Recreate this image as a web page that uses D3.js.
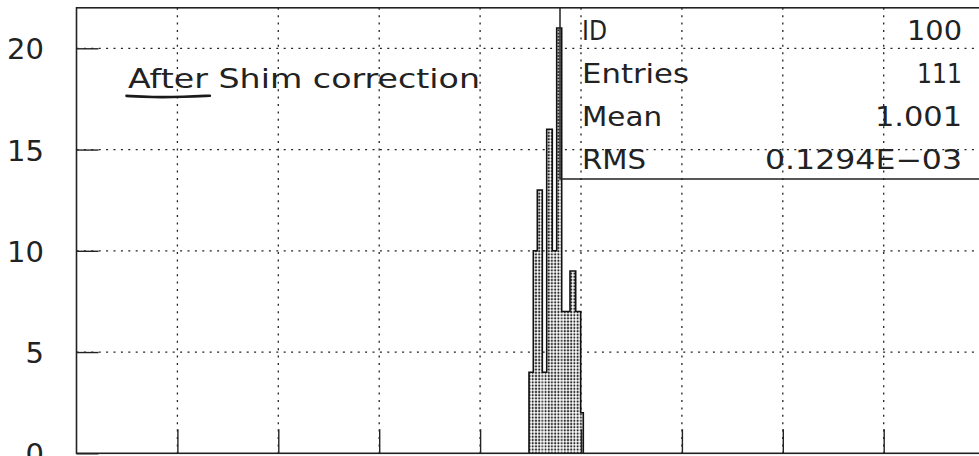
<!DOCTYPE html>
<html>
<head>
<meta charset="utf-8">
<script src="https://cdn.jsdelivr.net/npm/d3@7/dist/d3.min.js"></script>
<style>
  html, body { margin: 0; padding: 0; background: #fff; overflow: hidden; }
  svg { display: block; }
</style>
</head>
<body>
<svg id="chart" width="979" height="456"></svg>
<script>
// Histogram of the normalised field after shim correction (HBOOK style)
const binEdges = [1.0004846, 1.0005273, 1.000567, 1.0006165, 1.0006601, 1.0007156,
                  1.0007592, 1.0008087, 1.000891, 1.0009475, 1.000997, 1.0010228];
const binCounts = [4, 10, 13, 4, 16, 10, 21, 7, 9, 7, 2];
const xDomain = [0.996, 1.006];
const yDomain = [0, 22];
const yTickValues = [0, 5, 10, 15, 20];
const titleText = "After Shim correction";
const statLabels = ["ID", "Entries", "Mean", "RMS"];
const statValues = ["100", "111", "1.001", "0.1294E\u221203"];

const ink = "#222";
const font = "DejaVu Sans";

const svg = d3.select("#chart");
const plotLeft = 76.5, plotTop = 7.8, plotW = 1009, plotBottom = 453.3;

const x = d3.scaleLinear().domain(xDomain).range([plotLeft, plotLeft + plotW]);
const y = d3.scaleLinear().domain(yDomain).range([plotBottom, plotTop]);

// dot shading used for the filled histogram
const defs = svg.append("defs");
const pat = defs.append("pattern")
  .attr("id", "dots").attr("patternUnits", "userSpaceOnUse")
  .attr("width", 3.2).attr("height", 3.2);
pat.append("rect").attr("width", 3.2).attr("height", 3.2).attr("fill", "#fff");
pat.append("circle").attr("cx", 1.6).attr("cy", 1.6).attr("r", 1.15).attr("fill", "#2a2a2a");

// dotted grid
const gridStyle = g => g.attr("stroke", ink).attr("stroke-width", 1.3)
  .attr("stroke-dasharray", "2,5.4").attr("fill", "none");

const xGrid = x.ticks(10).filter(v => v > xDomain[0] + 1e-9 && v < xDomain[1] - 1e-9);
svg.append("g").call(gridStyle).selectAll("line").data(xGrid).join("line")
  .attr("x1", d => x(d)).attr("x2", d => x(d))
  .attr("y1", y(yDomain[1])).attr("y2", y(0));

svg.append("g").call(gridStyle).selectAll("line")
  .data(yTickValues.filter(v => v > 0)).join("line")
  .attr("y1", d => y(d)).attr("y2", d => y(d))
  .attr("x1", plotLeft).attr("x2", plotLeft + plotW);

// histogram bins (shaded) and step outline
const bins = binCounts.map((c, i) => ({ x0: binEdges[i], x1: binEdges[i + 1], n: c }));
svg.append("g").selectAll("rect").data(bins).join("rect")
  .attr("x", d => x(d.x0)).attr("width", d => x(d.x1) - x(d.x0))
  .attr("y", d => y(d.n)).attr("height", d => y(0) - y(d.n))
  .attr("fill", "url(#dots)");

const stepPts = [[binEdges[0], 0]];
bins.forEach(b => { stepPts.push([b.x0, b.n]); stepPts.push([b.x1, b.n]); });
stepPts.push([binEdges[binEdges.length - 1], 0]);
svg.append("path")
  .attr("d", d3.line().x(d => x(d[0])).y(d => y(d[1]))(stepPts))
  .attr("fill", "none").attr("stroke", "#111").attr("stroke-width", 1.6);

// y axis with inward ticks
const yAxis = svg.append("g").attr("transform", `translate(${plotLeft},0)`)
  .call(d3.axisLeft(y).tickValues(yTickValues).tickSize(-22).tickPadding(32.5));
yAxis.select(".domain").remove();
yAxis.selectAll(".tick line").attr("stroke", ink).attr("stroke-width", 1.4);
yAxis.selectAll(".tick text").attr("fill", ink)
  .style("font-family", font).style("font-size", "29px").attr("dy", "0.36em");

// x axis ticks (inward, labels below the frame)
const xAxis = svg.append("g").attr("transform", `translate(0,${plotBottom})`)
  .call(d3.axisBottom(x).tickValues(xGrid).tickSize(-24).tickFormat(""));
xAxis.select(".domain").remove();
xAxis.selectAll(".tick line").attr("stroke", ink).attr("stroke-width", 1.4);

// frame
svg.append("rect")
  .attr("x", plotLeft).attr("y", plotTop).attr("width", plotW).attr("height", plotBottom - plotTop)
  .attr("fill", "none").attr("stroke", ink).attr("stroke-width", 1.6);

// statistics box
const boxLeft = 560, boxBottom = 179;
svg.append("path")
  .attr("d", `M${boxLeft},${plotTop}V${boxBottom}H${plotLeft + plotW}`)
  .attr("fill", "none").attr("stroke", ink).attr("stroke-width", 1.5);

const rowH = (boxBottom - plotTop) / statLabels.length;
const labelW = [25, 107, 80, 64];
const valueW = [55, 45, 87, 197];
const statG = svg.append("g").style("font-family", font).style("font-size", "27px").attr("fill", ink);
statG.selectAll("text.lab").data(statLabels).join("text").attr("class", "lab")
  .attr("x", boxLeft + 22).attr("y", (d, i) => plotTop + rowH * i + 32.3)
  .attr("textLength", (d, i) => labelW[i]).attr("lengthAdjust", "spacingAndGlyphs")
  .text(d => d);
statG.selectAll("text.val").data(statValues).join("text").attr("class", "val")
  .attr("x", 962).attr("y", (d, i) => plotTop + rowH * i + 32.3)
  .attr("text-anchor", "end")
  .attr("textLength", (d, i) => valueW[i]).attr("lengthAdjust", "spacingAndGlyphs")
  .text(d => d);

// annotation with a hand-drawn underline beneath the first word
const title = svg.append("text")
  .attr("x", 128).attr("y", 88.3)
  .attr("textLength", 352).attr("lengthAdjust", "spacingAndGlyphs")
  .style("font-family", font).style("font-size", "27px").attr("fill", ink)
  .text(titleText);
const firstWordLen = titleText.indexOf(" ");
const u0 = title.node().getStartPositionOfChar(0).x - 1.5;
const u1 = title.node().getEndPositionOfChar(firstWordLen - 1).x + 2;
const uy = 96.5;
svg.append("path")
  .attr("d", d3.line().curve(d3.curveBasis)([
    [u0, uy - 0.6], [u0 + (u1 - u0) * 0.3, uy + 0.8], [u0 + (u1 - u0) * 0.7, uy + 0.4], [u1, uy - 0.8]
  ]))
  .attr("fill", "none").attr("stroke", "#1a1a1a").attr("stroke-width", 2.6)
  .attr("stroke-linecap", "round");
</script>
</body>
</html>
